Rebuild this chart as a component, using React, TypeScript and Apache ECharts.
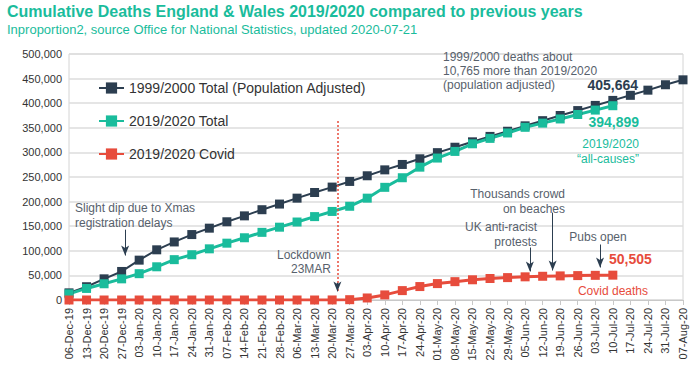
import React, { useEffect, useRef } from "react";
import * as echarts from "echarts";

const weeks = [
  "06-Dec-19", "13-Dec-19", "20-Dec-19", "27-Dec-19",
  "03-Jan-20", "10-Jan-20", "17-Jan-20", "24-Jan-20", "31-Jan-20",
  "07-Feb-20", "14-Feb-20", "21-Feb-20", "28-Feb-20",
  "06-Mar-20", "13-Mar-20", "20-Mar-20", "27-Mar-20",
  "03-Apr-20", "10-Apr-20", "17-Apr-20", "24-Apr-20",
  "01-May-20", "08-May-20", "15-May-20", "22-May-20", "29-May-20",
  "05-Jun-20", "12-Jun-20", "19-Jun-20", "26-Jun-20",
  "03-Jul-20", "10-Jul-20", "17-Jul-20", "24-Jul-20", "31-Jul-20",
  "07-Aug-20",
];

const total1999Adjusted = [
  14500, 27000, 43000, 58000, 81000, 102000, 118000, 133000, 146000,
  159000, 171000, 183500, 195000, 207000, 218500, 229500, 241000,
  252500, 264500, 275500, 287000, 299500, 310500, 321500, 332500, 343000,
  354000, 364500, 375000, 385000, 395500, 405664, 416000, 426500, 437500,
  447500,
];

const total2019 = [
  12500, 23500, 33000, 43000, 53500, 67500, 82000, 92000, 104000,
  115500, 126500, 137500, 148000, 158500, 169500, 180000, 190500,
  207000, 229000, 248500, 270000, 288500, 302000, 317500, 328500, 339500,
  351000, 359500, 368000, 377000, 386000, 394899,
];

const covid2019 = [
  0, 0, 0, 0, 0, 0, 0, 0, 0, 0, 0, 0, 0, 0, 0, 103, 642,
  4117, 10330, 19088, 27325, 33360, 37290, 41100, 43689, 45511,
  47099, 48213, 48996, 49602, 50134, 50505,
];

const seriesNames = [
  "1999/2000 Total (Population Adjusted)",
  "2019/2020 Total",
  "2019/2020 Covid",
];

// annotation arrows: [week index (fractional), from value, to value]
const arrows = [
  [3.2, 143000, 90400],
  [15.3, 35000, 17500],
  [26.27, 106700, 58000],
  [27.57, 177600, 60000],
  [30.27, 112800, 66100],
];
const lockdownLine = [15.3, 364000, 17500];

const FONT = "'Liberation Sans', Arial, Helvetica, sans-serif";
const DARK = "#2c3e50";
const GREEN = "#1abc9c";
const RED = "#e74c3c";
const NOTE = "#57616c";

function txt(x: number, y: number, text: string, opts: any = {}) {
  return {
    type: "text",
    x,
    y,
    silent: true,
    z: 100,
    style: {
      text,
      fill: opts.fill || NOTE,
      fontSize: opts.fontSize || 12,
      fontWeight: opts.fontWeight || "normal",
      fontFamily: FONT,
      align: opts.align || "left",
      verticalAlign: "top",
      lineHeight: opts.lineHeight || 14,
    },
  };
}

export default function App() {
  const ref = useRef<HTMLDivElement>(null);
  useEffect(() => {
    document.body.style.margin = "0";
    if (!ref.current) return;
    const chart = echarts.init(ref.current, undefined, { renderer: "svg" });
    const option: any = {
      animation: false,
      backgroundColor: "#ffffff",
      textStyle: { fontFamily: FONT },
      title: {
        text: "Cumulative Deaths England & Wales 2019/2020 compared to previous years",
        subtext: "Inproportion2, source Office for National Statistics, updated 2020-07-21",
        left: 7,
        top: 3,
        itemGap: 4,
        padding: 0,
        textStyle: { fontSize: 16, fontWeight: "bold", color: GREEN, fontFamily: FONT },
        subtextStyle: { fontSize: 13, color: GREEN, fontFamily: FONT },
      },
      legend: {
        data: seriesNames,
        orient: "vertical",
        left: 98,
        top: 81,
        padding: 0,
        itemWidth: 25,
        itemHeight: 14,
        itemGap: 19,
        selectedMode: false,
        textStyle: { fontSize: 14, color: "#333", fontFamily: FONT },
      },
      grid: {
        left: 69,
        right: 17,
        top: 54,
        bottom: 71,
        show: true,
        borderColor: "#d4d4d4",
        borderWidth: 1,
      },
      xAxis: [
        {
          type: "category",
          data: weeks,
          boundaryGap: false,
          axisLine: { lineStyle: { color: "#c8c8c8" } },
          axisTick: { show: true, alignWithLabel: true, length: 5, lineStyle: { color: "#c8c8c8" } },
          axisLabel: {
            interval: 0,
            rotate: 90,
            fontSize: 11,
            color: "#333",
            fontFamily: FONT,
            margin: 8,
          },
          splitLine: { show: false },
        },
        { type: "value", min: 0, max: weeks.length - 1, show: false },
      ],
      yAxis: {
        type: "value",
        min: 0,
        max: 500000,
        interval: 50000,
        axisLine: { show: false },
        axisTick: { show: false },
        axisLabel: {
          fontSize: 11,
          color: "#333",
          fontFamily: FONT,
          margin: 7,
          formatter: (v: number) => v.toLocaleString("en-US"),
        },
        splitLine: { lineStyle: { color: "#dcdcdc", width: 1.5 } },
      },
      series: [
        {
          name: seriesNames[0],
          type: "line",
          data: total1999Adjusted,
          symbol: "rect",
          symbolSize: 9,
          color: DARK,
          lineStyle: { width: 2, color: DARK },
          itemStyle: { color: DARK },
        },
        {
          name: seriesNames[1],
          type: "line",
          data: total2019,
          symbol: "rect",
          symbolSize: 9,
          color: GREEN,
          lineStyle: { width: 3, color: GREEN },
          itemStyle: { color: GREEN },
        },
        {
          name: seriesNames[2],
          type: "line",
          data: covid2019,
          symbol: "rect",
          symbolSize: 9,
          color: RED,
          lineStyle: { width: 3, color: RED },
          itemStyle: { color: RED },
        },
        {
          name: "lockdown",
          type: "line",
          xAxisIndex: 1,
          data: [],
          silent: true,
          color: RED,
          itemStyle: { color: RED },
          lineStyle: { color: RED },
          markLine: {
            silent: true,
            symbol: ["none", "none"],
            label: { show: false },
            itemStyle: { color: RED },
            lineStyle: { color: RED, width: 1.5, type: [2, 2], opacity: 1 },
            emphasis: { disabled: true },
            data: [
              [
                { coord: [lockdownLine[0], lockdownLine[1]], lineStyle: { color: RED, width: 1.5, type: [2, 2] } },
                { coord: [lockdownLine[0], lockdownLine[2]] },
              ],
            ],
          },
        },
        {
          name: "arrows",
          type: "line",
          xAxisIndex: 1,
          data: [],
          silent: true,
          z: 5,
          color: DARK,
          markLine: {
            silent: true,
            symbol: ["none", "arrow"],
            symbolSize: [6, 10],
            label: { show: false },
            lineStyle: { color: DARK, width: 1, type: "solid" },
            emphasis: { disabled: true },
            data: arrows.map((a) => [{ coord: [a[0], a[1]] }, { coord: [a[0], a[2]] }]),
          },
        },
      ],
      graphic: [
        txt(75, 200, "Slight dip due to Xmas\nregistration delays", { lineHeight: 15 }),
        txt(443, 50, "1999/2000 deaths about\n10,765 more than 2019/2020\n(population adjusted)", { lineHeight: 14 }),
        txt(638, 78, "405,664", { align: "right", fontSize: 14, fontWeight: "bold", fill: DARK }),
        txt(639, 115, "394,899", { align: "right", fontSize: 14, fontWeight: "bold", fill: GREEN }),
        txt(639, 137, "2019/2020\n\u201call-causes\u201d", { align: "right", fill: GREEN, lineHeight: 14.5 }),
        txt(331, 248, "Lockdown\n23MAR", { align: "right", lineHeight: 14 }),
        txt(565, 187, "Thousands crowd\non beaches", { align: "right", lineHeight: 14.5 }),
        txt(537, 220, "UK anti-racist\nprotests", { align: "right", lineHeight: 14.5 }),
        txt(598, 230, "Pubs open", { align: "center" }),
        txt(609, 252, "50,505", { fontSize: 14, fontWeight: "bold", fill: RED }),
        txt(648, 284, "Covid deaths", { align: "right", fill: RED }),
      ],
    };
    chart.setOption(option);
    return () => chart.dispose();
  }, []);
  return <div ref={ref} style={{ width: 700, height: 371 }} />;
}
